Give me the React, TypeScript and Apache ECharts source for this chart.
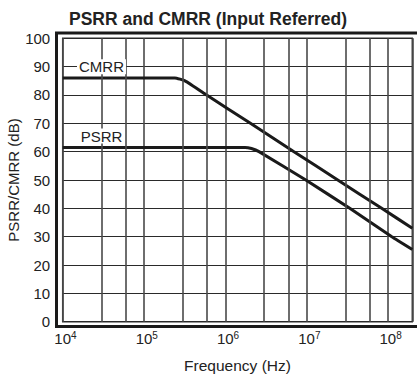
import React, { useEffect, useRef } from "react";
import * as echarts from "echarts";

// Frequencies in Hz, values in dB
const cmrrFreq = [1e4, 2.4e5, 3.2e5, 5.9e5, 2.04e6, 7e6, 2.42e7, 8.4e7, 2e8];
const cmrrDb = [86, 86, 85, 80, 70, 60, 50, 40, 33];
const psrrFreq = [1e4, 1.75e6, 2.1e6, 2.6e6, 9.8e6, 3.4e7, 1.12e8, 2e8];
const psrrDb = [61.5, 61.5, 61.1, 60, 50, 40, 30, 25.5];
const minorGridFreqs = [3e4, 6e4, 3e5, 6e5, 3e6, 6e6, 3e7, 6e7];
const xMin = 1e4;
const xMax = 2e8;
const yMin = 0;
const yMax = 100;
const yStep = 10;
const cmrrLabelAt = [3e4, 90];
const psrrLabelAt = [3e4, 65.5];

const FONT = "'Liberation Sans', Arial, Helvetica, sans-serif";

export default function App() {
  const ref = useRef<HTMLDivElement>(null);
  useEffect(() => {
    if (!ref.current) return;
    const chart = echarts.init(ref.current, null, { renderer: "svg" });
    const lbl = (text: string, coord: number[]) => ({
      coord,
      symbol: "circle",
      symbolSize: 0,
      label: {
        show: true,
        position: "inside",
        formatter: text,
        color: "#222",
        fontFamily: FONT,
        fontSize: 15,
        backgroundColor: "#fff",
        padding: [0, 2, 0, 2],
      },
    });
    chart.setOption({
      animation: false,
      backgroundColor: "#fff",
      title: {
        text: "PSRR and CMRR (Input Referred)",
        left: 64,
        top: 5,
        textStyle: { fontFamily: FONT, fontSize: 17.5, fontWeight: "bold", color: "#222" },
      },
      grid: {
        left: 62.7,
        right: 4.7,
        top: 38.3,
        bottom: 59.3,
        containLabel: false,
        outerBoundsMode: "none",
        show: true,
        borderColor: "#333",
        borderWidth: 1.5,
        backgroundColor: "transparent",
      },
      xAxis: {
        type: "log",
        logBase: 10,
        min: xMin,
        max: xMax,
        name: "Frequency (Hz)",
        nameLocation: "middle",
        nameGap: 36,
        nameMoveOverlap: false,
        nameTextStyle: { fontFamily: FONT, fontSize: 15.5, color: "#222" },
        axisLine: { show: false },
        axisTick: { show: false },
        splitLine: { show: true, lineStyle: { color: "#4a4a4a", width: 1.6 } },
        axisLabel: {
          margin: 9,
          color: "#222",
          fontFamily: FONT,
          formatter: (v: number) => {
            const e = Math.round(Math.log10(v));
            if (Math.abs(v - Math.pow(10, e)) > 1e-6 * v) return "";
            return `{h|${e}}{b|10}{s|${e}}`;
          },
          rich: {
            b: { fontSize: 15, fontFamily: FONT, color: "#222" },
            s: { fontSize: 10, fontFamily: FONT, color: "#222", verticalAlign: "top", padding: [0, 0, 6, 0] },
            h: { fontSize: 10, fontFamily: FONT, color: "transparent", padding: [0, 0, 6, 0] },
          },
        },
      },
      yAxis: {
        type: "value",
        min: yMin,
        max: yMax,
        interval: yStep,
        name: "PSRR/CMRR (dB)",
        nameLocation: "middle",
        nameGap: 42,
        nameMoveOverlap: false,
        nameTextStyle: { fontFamily: FONT, fontSize: 15, color: "#222" },
        axisLine: { show: false },
        axisTick: { show: false },
        splitLine: { show: true, lineStyle: { color: "#2a2a2a", width: 1.2 } },
        axisLabel: { margin: 12.5, color: "#222", fontFamily: FONT, fontSize: 15 },
      },
      graphic: [
        {
          type: "polyline",
          z: 10,
          shape: { points: [[418, 33], [56.5, 33], [56.5, 326.5], [418, 326.5]] },
          style: { stroke: "#1a1a1a", lineWidth: 3, fill: "none" },
        },
      ],
      series: [
        {
          type: "line",
          data: [],
          z: 1,
          markLine: {
            silent: true,
            symbol: "none",
            label: { show: false },
            lineStyle: { color: "#4a4a4a", width: 1.6, type: "solid" },
            data: minorGridFreqs.map((f) => ({ xAxis: f })),
          },
        },
        {
          name: "CMRR",
          type: "line",
          z: 3,
          showSymbol: false,
          smooth: 0.12,
          lineStyle: { color: "#1a1a1a", width: 3 },
          data: cmrrFreq.map((f, i) => [f, cmrrDb[i]]),
          markPoint: { z: 5, data: [lbl("CMRR", cmrrLabelAt)] },
        },
        {
          name: "PSRR",
          type: "line",
          z: 3,
          showSymbol: false,
          smooth: 0.12,
          lineStyle: { color: "#1a1a1a", width: 3 },
          data: psrrFreq.map((f, i) => [f, psrrDb[i]]),
          markPoint: { z: 5, data: [lbl("PSRR", psrrLabelAt)] },
        },
      ],
    });
    return () => chart.dispose();
  }, []);
  return (
    <div
      ref={ref}
      style={{ position: "absolute", left: 0, top: 0, width: 417, height: 381 }}
    />
  );
}
